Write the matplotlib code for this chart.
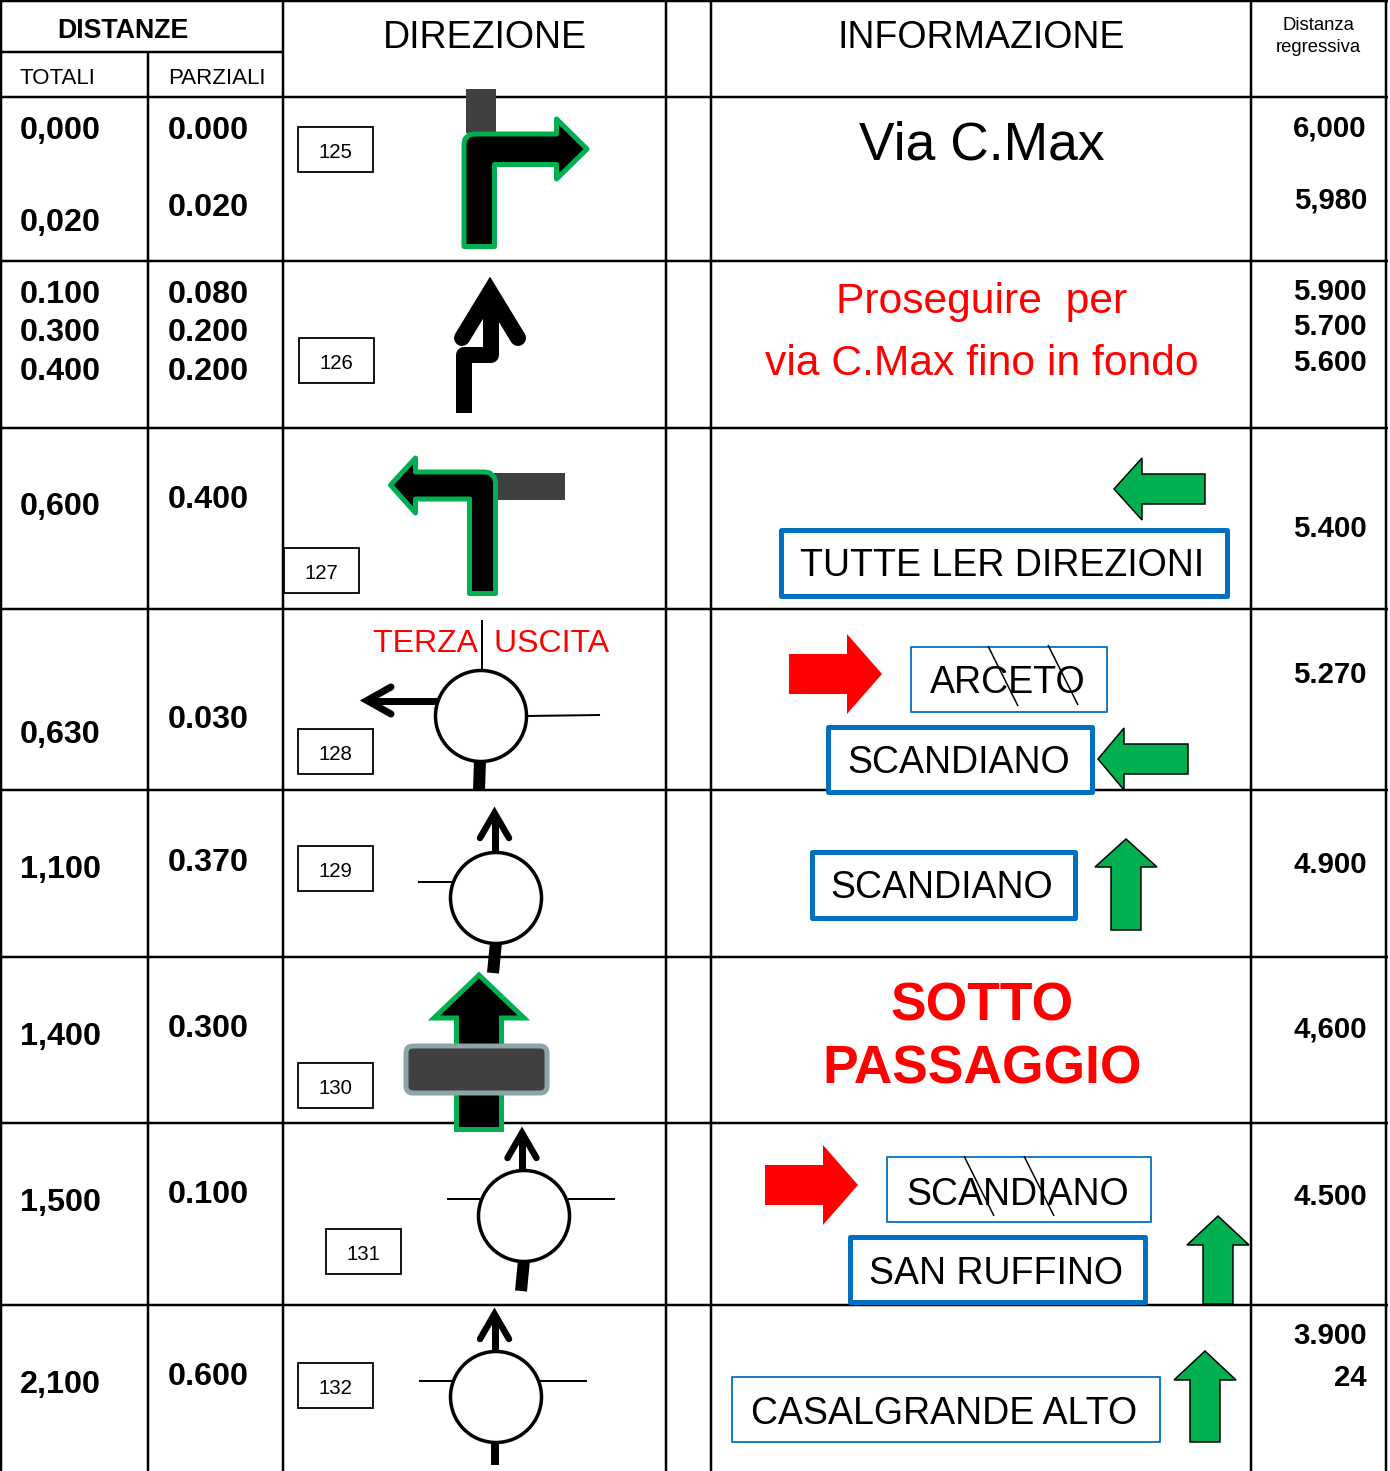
## road book table, one page
import matplotlib
matplotlib.use('Agg')
import matplotlib.pyplot as plt
from matplotlib.patches import Polygon, Rectangle, Circle, FancyBboxPatch

plt.rcParams['font.family'] = ['Liberation Sans', 'DejaVu Sans']

W, H = 1390, 1471
PX = 0.72  # one pixel in points at dpi 100

GREEN = '#00B050'
BLUE = '#0070C0'
RED = '#FF0000'
DARK = '#404040'

col_x = [1, 148, 283, 666, 711, 1251, 1386]
row_y = [97, 261, 428, 609, 790, 957, 1123, 1305]

# distances: (text, baseline in px)
totali = [('0,000', 139), ('0,020', 231), ('0.100', 303), ('0.300', 341), ('0.400', 380),
          ('0,600', 515), ('0,630', 743), ('1,100', 878), ('1,400', 1045), ('1,500', 1211), ('2,100', 1393)]
parziali = [('0.000', 139), ('0.020', 216), ('0.080', 303), ('0.200', 341), ('0.200', 380),
            ('0.400', 508), ('0.030', 728), ('0.370', 871), ('0.300', 1037), ('0.100', 1203), ('0.600', 1385)]
regressiva = [('6,000', 136), ('5,980', 208), ('5.900', 300), ('5.700', 335), ('5.600', 371),
              ('5.400', 537), ('5.270', 683), ('4.900', 873), ('4,600', 1038), ('4.500', 1205),
              ('3.900', 1344), ('24', 1386)]

# numbered boxes: label, left, top
num_boxes = [('125', 298, 127), ('126', 299, 338), ('127', 284, 548), ('128', 298, 729),
             ('129', 298, 846), ('130', 298, 1063), ('131', 326, 1229), ('132', 298, 1363)]

# signs: text, left, top, right, bottom, centre x, baseline, thick border
signs = [('TUTTE LER DIREZIONI', 781, 530, 1227, 596, 1002, 576, True),
         ('ARCETO', 911, 647, 1107, 712, 1008, 693, False),
         ('SCANDIANO', 828, 727, 1092, 792, 959, 773, True),
         ('SCANDIANO', 812, 852, 1075, 918, 942, 898, True),
         ('SCANDIANO', 887, 1157, 1151, 1222, 1018, 1205, False),
         ('SAN RUFFINO', 850, 1237, 1145, 1302, 996, 1284, True),
         ('CASALGRANDE ALTO', 732, 1377, 1160, 1442, 944, 1424, False)]

strikes = [(988, 646, 1018, 706), (1048, 645, 1078, 705),
           (964, 1156, 994, 1216), (1024, 1156, 1054, 1216)]

fig = plt.figure(figsize=(W / 100, H / 100), dpi=100)
ax = fig.add_axes([0, 0, 1, 1])
ax.set_xlim(0, W)
ax.set_ylim(H, 0)
ax.axis('off')


def line(pts, lw, c='k', cap='butt', join='miter', z=3):
    ax.plot([p[0] for p in pts], [p[1] for p in pts], c=c, lw=lw * PX,
            solid_capstyle=cap, solid_joinstyle=join, zorder=z)


def poly(pts, fc, ec, lw, join='round', z=4):
    ax.add_patch(Polygon(pts, closed=True, fc=fc, ec=ec, lw=lw * PX, joinstyle=join, zorder=z))


def txt(x, y, s, size, ha='center', c='k', weight='normal'):
    ax.text(x, y, s, fontsize=size, ha=ha, va='baseline', color=c, weight=weight, zorder=8)


def arrow_up(tip_x, tip_y, half, base_y, stem, bottom):
    poly([(tip_x, tip_y), (tip_x + half, base_y), (tip_x + stem, base_y), (tip_x + stem, bottom),
          (tip_x - stem, bottom), (tip_x - stem, base_y), (tip_x - half, base_y)], GREEN, 'k', 1.5, 'miter')


def arrow_left(tip_x, mid_y, base_x, half, stem, right):
    poly([(tip_x, mid_y), (base_x, mid_y - half), (base_x, mid_y - stem), (right, mid_y - stem),
          (right, mid_y + stem), (base_x, mid_y + stem), (base_x, mid_y + half)], GREEN, 'k', 1.5, 'miter')


def arrow_red(left, mid_y, base_x, tip_x):
    poly([(left, mid_y - 20), (base_x, mid_y - 20), (base_x, mid_y - 40), (tip_x, mid_y),
          (base_x, mid_y + 40), (base_x, mid_y + 20), (left, mid_y + 20)], RED, 'none', 0, 'miter')


def small_up(x, tip, base):
    # thin black arrow above a roundabout
    line([(x, base), (x, tip + 12)], 7)
    line([(x - 14.5, tip + 31), (x, tip + 6), (x + 14.5, tip + 31)], 6.5, cap='round')


def roundabout(x, y):
    ax.add_patch(Circle((x, y), 45.5, fc='white', ec='k', lw=3.5 * PX, zorder=5))


# grid
for x in col_x:
    top = 52 if x == col_x[1] else 1
    line([(x, top), (x, H)], 2.5, z=1)
for y in row_y:
    line([(0, y), (1388, y)], 2.5, z=1)
line([(0, 1), (1388, 1)], 2.5, z=1)
line([(0, 52), (283, 52)], 2.5, z=1)

# header
txt(123, 38, 'DISTANZE', 19.3, weight='bold')
txt(20, 84, 'TOTALI', 16, ha='left')
txt(168, 84, 'PARZIALI', 16, ha='left')
txt(484.5, 48, 'DIREZIONE', 27)
txt(981, 48, 'INFORMAZIONE', 27)
txt(1318.5, 30, 'Distanza', 13.3)
txt(1318.5, 52, 'regressiva', 13.3)

for s, y in totali:
    txt(20, y, s, 23.3, ha='left', weight='bold')
for s, y in parziali:
    txt(168, y, s, 23.3, ha='left', weight='bold')
for s, y in regressiva:
    txt(1367, y, s, 21.2, ha='right', weight='bold')

for s, x, y in num_boxes:
    ax.add_patch(Rectangle((x, y), 74.5, 45, fc='white', ec='k', lw=1.8 * PX, zorder=3))
    txt(x + 37, y + 30.5, s, 14.7)

# row 125
ax.add_patch(Rectangle((466, 89), 30, 44, fc=DARK, ec='none', zorder=2))
poly([(464, 246.5), (464, 144), (465, 139), (469, 135), (474, 134), (556.5, 134), (556.5, 119),
      (587, 149), (556.5, 179), (556.5, 164.5), (494.5, 164.5), (494.5, 246.5)], 'k', GREEN, 5)

# row 126
line([(464, 413), (464, 355), (490.5, 355), (490.5, 300)], 16, join='round')
line([(462, 338), (490, 292), (518, 338)], 16, cap='round')

# row 127
ax.add_patch(Rectangle((490, 473), 75, 27, fc=DARK, ec='none', zorder=2))
poly([(390.5, 485), (415.5, 458), (415.5, 472), (485, 472), (490, 473), (494, 477), (495.5, 482),
      (495.5, 593.5), (469.5, 593.5), (469.5, 499), (415.5, 499), (415.5, 513)], 'k', GREEN, 5)

# row 128
txt(491, 652, 'TERZA  USCITA', 23, c=RED)
line([(481.5, 620), (481.5, 672)], 2)
line([(526, 716), (600, 715)], 2)
line([(440, 700.5), (372, 700.5)], 7)
line([(391, 687), (367, 700.5), (391, 714)], 7, cap='round')
line([(480, 760), (479, 790)], 12)
roundabout(481, 716)

# row 129
small_up(494.5, 807, 856)
line([(418, 882), (452, 882)], 2)
line([(496, 942), (493, 973)], 12)
roundabout(496, 898)

# row 130
poly([(479, 975), (524, 1018), (501.5, 1018), (501.5, 1129.5), (456.5, 1129.5), (456.5, 1018), (434, 1018)],
     'k', GREEN, 5, 'miter')
ax.add_patch(FancyBboxPatch((406, 1046), 141, 47, boxstyle='round,pad=0,rounding_size=7',
                            fc=DARK, ec='#8BA5A8', lw=5 * PX, zorder=5))

# row 131
small_up(522, 1127, 1174)
line([(447, 1199), (482, 1199)], 2)
line([(568, 1199), (615, 1199)], 2)
line([(524, 1260), (521, 1291)], 12)
roundabout(524, 1216)

# row 132
small_up(494.5, 1308, 1356)
line([(419, 1381), (452, 1381)], 2)
line([(540, 1381), (587, 1381)], 2)
line([(495, 1441), (495, 1465)], 8)
roundabout(496, 1397)

# information column
txt(982, 159, 'Via C.Max', 38.4)
txt(982, 313, 'Proseguire  per', 30.7, c=RED)
txt(981.5, 375, 'via C.Max fino in fondo', 30.7, c=RED)
txt(982, 1020, 'SOTTO', 38.4, c=RED, weight='bold')
txt(982, 1084, 'PASSAGGIO', 38.4, c=RED, weight='bold')

for s, x0, y0, x1, y1, cx, base, thick in signs:
    ax.add_patch(Rectangle((x0, y0), x1 - x0, y1 - y0, fc='white', ec=BLUE,
                           lw=(5 if thick else 1.8) * PX, joinstyle='round', zorder=6))
    txt(cx, base, s, 27)

for x0, y0, x1, y1 in strikes:
    line([(x0, y0), (x1, y1)], 1.5, z=9)

arrow_left(1114, 489, 1142, 31, 15, 1205)
arrow_left(1098, 759, 1124, 31, 15, 1188)
arrow_up(1126, 839, 31, 867, 15, 930)
arrow_up(1218, 1216, 31, 1245, 15, 1304)
arrow_up(1205, 1351, 31, 1380, 15, 1442)
arrow_red(789, 674, 847, 882)
arrow_red(765, 1185, 823, 858)

plt.savefig('out.png', dpi=100)
